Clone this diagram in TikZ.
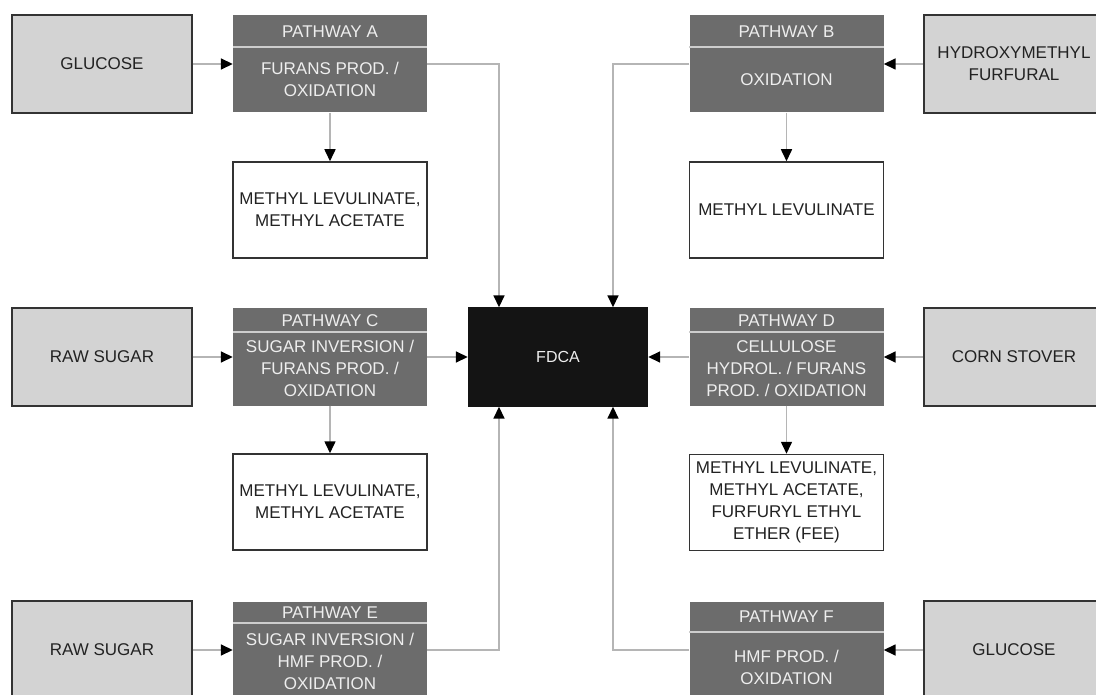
\documentclass[tikz,border=0pt]{standalone}
\usepackage{fontspec}
\setmainfont{Liberation Sans}
\usetikzlibrary{arrows.meta}
\definecolor{feedgray}{HTML}{D3D3D3}
\definecolor{edgedark}{HTML}{333333}
\definecolor{routegray}{HTML}{6C6C6C}
\definecolor{headwhite}{HTML}{EEEEEE}
\definecolor{linkgray}{HTML}{B5B5B5}
\definecolor{inkdark}{HTML}{222222}
\tikzset{
  feed/.style={draw=edgedark, line width=1.9pt, fill=feedgray, text=inkdark,
    minimum width=180pt, minimum height=98pt, inner sep=0pt, align=center,
    font=\fontsize{17}{22}\selectfont},
  route/.style={fill=routegray, minimum width=194pt, minimum height=97pt, inner sep=0pt},
  routetxt/.style={text=headwhite, align=center, inner sep=0pt, font=\fontsize{17}{22}\selectfont},
  product/.style={draw=edgedark, line width=1.5pt, fill=white, text=inkdark,
    minimum width=194pt, minimum height=96pt, inner sep=0pt, align=center,
    font=\fontsize{17}{22}\selectfont},
  sepline/.style={draw=headwhite!75!routegray, line width=1.2pt},
  link/.style={draw=linkgray, line width=1.6pt, -{Triangle[color=black, length=12pt, width=11pt]}}
}
\begin{document}
\begin{tikzpicture}[x=1pt,y=-1pt]
\useasboundingbox (0,0) rectangle (1096,695);
\clip (0,0) rectangle (1096,695);

\node[feed] (glcA) at (102,64) {GLUCOSE};
\node[feed] (hmf) at (1014,64) {HYDROXYMETHYL\\FURFURAL};
\node[feed] (sugarC) at (102,357) {RAW SUGAR};
\node[feed] (corn) at (1014,357) {CORN STOVER};
\node[feed] (sugarE) at (102,650) {RAW SUGAR};
\node[feed] (glcF) at (1014,650) {GLUCOSE};

\node[route] (pwA) at (330,64) {};
\node[route] (pwB) at (786.5,64) {};
\node[route] (pwC) at (330,357) {};
\node[route] (pwD) at (786.5,357) {};
\node[route] (pwE) at (330,650) {};
\node[route] (pwF) at (786.5,650) {};

\draw[sepline] (233,47) -- (427,47);
\draw[sepline] (689,47) -- (884,47);
\draw[sepline] (233,332) -- (427,332);
\draw[sepline] (689,332) -- (884,332);
\draw[sepline] (233,623) -- (427,623);
\draw[sepline] (689,632) -- (884,632);

\node[routetxt] (pwAhead) at (330,31.5) {PATHWAY A};
\node[routetxt] (pwAbody) at (330,79.5) {FURANS PROD. /\\OXIDATION};
\node[routetxt] (pwBhead) at (786.5,31.5) {PATHWAY B};
\node[routetxt] (pwBbody) at (786.5,79.5) {OXIDATION};
\node[routetxt] (pwChead) at (330,320.5) {PATHWAY C};
\node[routetxt] (pwCbody) at (330,368.5) {SUGAR INVERSION /\\FURANS PROD. /\\OXIDATION};
\node[routetxt] (pwDhead) at (786.5,320.5) {PATHWAY D};
\node[routetxt] (pwDbody) at (786.5,368.5) {CELLULOSE\\HYDROL. / FURANS\\PROD. / OXIDATION};
\node[routetxt] (pwEhead) at (330,612.5) {PATHWAY E};
\node[routetxt] (pwEbody) at (330,661) {SUGAR INVERSION /\\HMF PROD. /\\OXIDATION};
\node[routetxt] (pwFhead) at (786.5,617) {PATHWAY F};
\node[routetxt] (pwFbody) at (786.5,667) {HMF PROD. /\\OXIDATION};

\node[product] (prodA) at (330,210) {METHYL LEVULINATE,\\METHYL ACETATE};
\node[product] (prodB) at (786.5,210) {METHYL LEVULINATE};
\node[product] (prodC) at (330,502) {METHYL LEVULINATE,\\METHYL ACETATE};
\node[product] (prodD) at (786.5,502.5) {METHYL LEVULINATE,\\METHYL ACETATE,\\FURFURYL ETHYL\\ETHER (FEE)};

\node[fill=black!92, text=headwhite, minimum width=180pt, minimum height=99pt,
  font=\fontsize{16}{20}\selectfont] (fdca) at (558,357) {FDCA};

\draw[link] (glcA) -- (pwA);
\draw[link] (pwA) -- (prodA);
\draw[link] (pwA.east) -| ([xshift=-59pt]fdca.north);
\draw[link] (hmf) -- (pwB);
\draw[link] (pwB) -- (prodB);
\draw[link] (pwB.west) -| ([xshift=55pt]fdca.north);
\draw[link] (sugarC) -- (pwC);
\draw[link] (pwC) -- (fdca);
\draw[link] (pwC) -- (prodC);
\draw[link] (corn) -- (pwD);
\draw[link] (pwD) -- (fdca);
\draw[link] (pwD) -- (prodD);
\draw[link] (sugarE) -- (pwE);
\draw[link] (pwE.east) -| ([xshift=-59pt]fdca.south);
\draw[link] (glcF) -- (pwF);
\draw[link] (pwF.west) -| ([xshift=55pt]fdca.south);
\end{tikzpicture}
\end{document}
